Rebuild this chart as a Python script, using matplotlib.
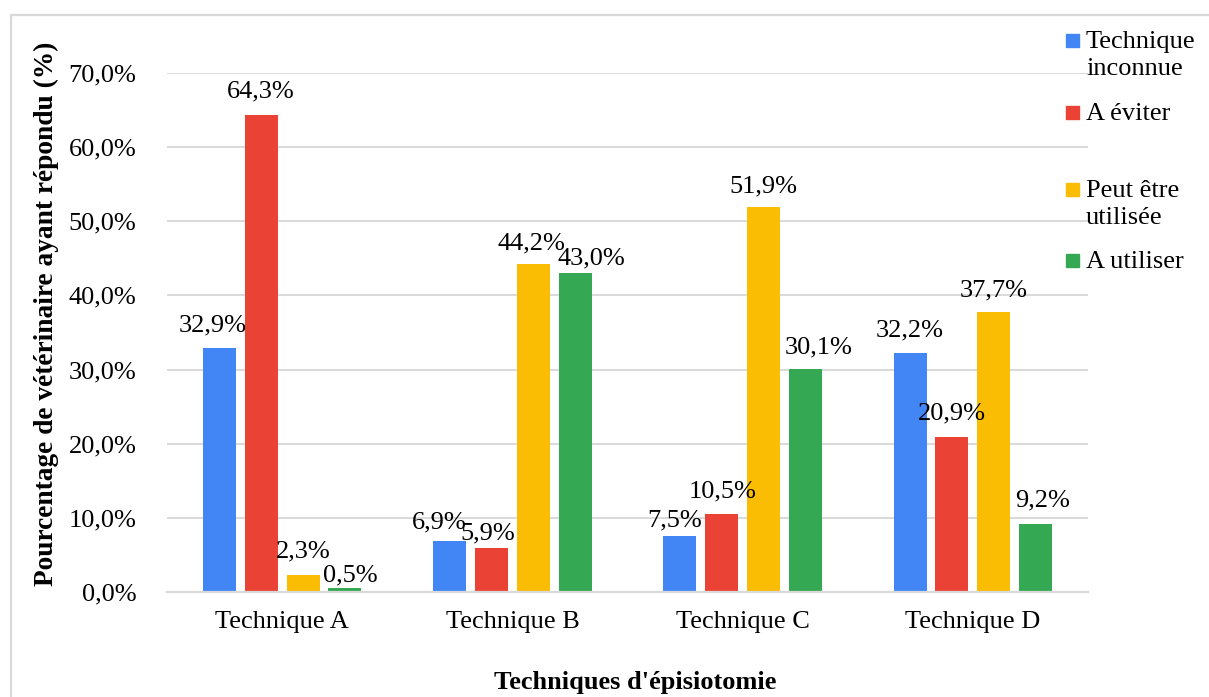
import numpy as np
import matplotlib
matplotlib.use('Agg')
import matplotlib.pyplot as plt
from matplotlib.patches import Rectangle
from matplotlib.ticker import FuncFormatter

plt.rcParams['font.family'] = ['Liberation Serif', 'DejaVu Serif']

W, H = 1209, 697

techniques = ['Technique A', 'Technique B', 'Technique C', 'Technique D']
series = ['Technique\ninconnue', 'A éviter', 'Peut être\nutilisée', 'A utiliser']
inconnue = [32.9, 6.9, 7.5, 32.2]
eviter = [64.3, 5.9, 10.5, 20.9]
peut_etre = [2.3, 44.2, 51.9, 37.7]
utiliser = [0.5, 43.0, 30.1, 9.2]
colors = ['#4285F4', '#EA4335', '#FBBC04', '#34A853']

# label nudges (pixels, dx / dy up) - the labels in the original were moved by hand
nudges = [
    [(-7, 17), (-10, 12), (-5, 10), (0, 17)],
    [(0, 18), (-4, 9), (1, 17), (0, 18)],
    [(0, 17), (-2, 15), (0, 15), (0, 16)],
    [(5, 7), (16, 9), (13, 15), (7, 17)],
]

def fx(px):
    return px / W

def fy(py):
    return 1 - py / H

fig = plt.figure(figsize=(W / 100, H / 100), dpi=100)
ax = fig.add_axes([fx(167), fy(592), fx(1088) - fx(167), fy(73) - fy(592)])

x = np.arange(len(techniques))
width = 0.143
step = 0.1818
values = [inconnue, eviter, peut_etre, utiliser]

for i, vals in enumerate(values):
    bars = ax.bar(x + (i - 1.5) * step, vals, width, color=colors[i], zorder=3)
    for j, b in enumerate(bars):
        dx, dy = nudges[i][j]
        ax.annotate(('%.1f%%' % vals[j]).replace('.', ','),
                    xy=(b.get_x() + b.get_width() / 2, b.get_height()),
                    xytext=(dx, dy), textcoords='offset pixels',
                    ha='center', va='baseline', fontsize=19, zorder=5,
                    annotation_clip=False)

ax.set_xlim(-0.5, 3.5)
ax.set_ylim(0, 70)
ax.set_yticks(np.arange(0, 71, 10))
ax.yaxis.set_major_formatter(FuncFormatter(lambda v, p: ('%.1f%%' % v).replace('.', ',')))
ax.set_xticks(x)
ax.set_xticklabels(techniques)
ax.tick_params(axis='both', length=0, labelsize=19)
ax.tick_params(axis='x', pad=14)
ax.tick_params(axis='y', pad=22)
ax.grid(axis='y', color='#d9d9d9', linewidth=1.4, zorder=0)
for s in ['top', 'right', 'left']:
    ax.spines[s].set_visible(False)
ax.spines['bottom'].set_color('#d9d9d9')
ax.spines['bottom'].set_linewidth(1.6)
ax.spines['bottom'].set_zorder(4)

fig.text(fx(46), fy(314), 'Pourcentage de vétérinaire ayant répondu (%)', rotation=90,
         ha='center', va='center', fontsize=19.7, fontweight='bold')
fig.text(fx(635), fy(683), "Techniques d'épisiotomie", ha='center', va='center',
         fontsize=19, fontweight='bold')

# legend, drawn by hand to keep the uneven spacing
leg_base = [48, 120, 197, 268]
for i, lab in enumerate(series):
    fig.add_artist(Rectangle((fx(1066), fy(leg_base[i] - 1)), 13 / W, 13 / H,
                             transform=fig.transFigure, color=colors[i]))
    for k, line in enumerate(lab.split('\n')):
        fig.text(fx(1086), fy(leg_base[i] + 27 * k), line, ha='left', va='baseline',
                 fontsize=19)

# outer border of the chart
fig.add_artist(Rectangle((fx(11), -0.05), 1.1, fy(15) + 0.05, transform=fig.transFigure,
                         fill=False, edgecolor='#d9d9d9', linewidth=1.6))

fig.savefig('out.png', dpi=100)
